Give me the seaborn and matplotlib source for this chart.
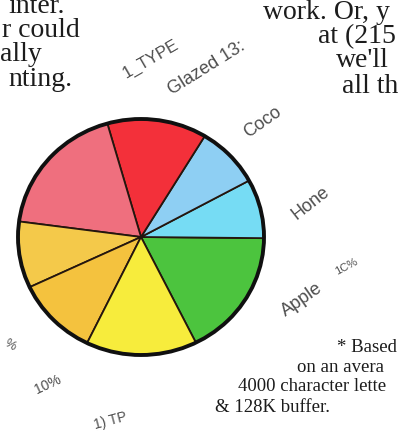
import matplotlib
matplotlib.use("Agg")
import matplotlib.pyplot as plt
from matplotlib.patches import Ellipse
import seaborn as sns


# DATA

# pie slices, counter-clockwise starting from the green one
slice_names = ["Apple", "Hone", "Coco", "Glazed", "Pink", "Orange A", "Orange B", "Yellow"]
slice_shares = [17.5, 8.1, 8.4, 13.1, 18.5, 9.1, 10.8, 14.6]
slice_colors = ["#4cc43e", "#76dcf4", "#8ecff3", "#f3303a", "#ef6f7e",
                "#f4c94a", "#f4c23e", "#f7ec3c"]

left_lines = ["inter.", "r could", "ally", "nting."]
right_lines = ["work. Or, y", "at (215", "we'll", "all th"]
note_lines = ["* Based", "on an avera", "4000 character lette", "& 128K buffer."]
pie_tags = ["1_TYPE", "Glazed 13:", "Coco", "Hone", "Apple", "1C%", "%", "10%", "1) TP"]


# STYLE

sns.set_theme(style="white")
plt.rcParams["font.family"] = ["Liberation Serif", "DejaVu Serif"]

W, H = 399, 435
fig = plt.figure(figsize=(W / 100, H / 100), dpi=100)
fig.patch.set_facecolor("white")

# background axes in pixel units (y grows downward)
bg = fig.add_axes([0, 0, 1, 1])
bg.set_xlim(0, W)
bg.set_ylim(H, 0)
bg.axis("off")


# PIE

cx, cy, rx, ry = 141, 238, 123, 118
pax = fig.add_axes([(cx - rx) / W, (H - cy - ry) / H, 2 * rx / W, 2 * ry / H])
wedges, _ = pax.pie(slice_shares, colors=slice_colors, startangle=-63.5,
                    counterclock=True, radius=1,
                    wedgeprops=dict(edgecolor="#24160e", linewidth=1.3))
for w in wedges:
    w.set_clip_on(False)
pax.set_aspect("auto")
pax.set_xlim(-1, 1)
pax.set_ylim(-1, 1)
pax.axis("off")
pax.add_patch(Ellipse((0, 0), 2, 2, fill=False, edgecolor="#101010",
                      linewidth=2.8, clip_on=False))


# BODY TEXT

body_kw = dict(fontsize=20, color="#1c1c1c", va="baseline")
for txt, x, y in zip(left_lines, [65, 80, 42, 73], [13, 37, 61, 86]):
    bg.text(x, y, txt, ha="right", **body_kw)
for txt, x, y in zip(right_lines, [263, 318, 336, 342], [19, 43, 67, 93]):
    bg.text(x, y, txt, ha="left", **body_kw)

note_kw = dict(fontsize=13.5, color="#1c1c1c", va="baseline", ha="left")
for txt, x, y in zip(note_lines, [337, 297, 238, 215], [352, 372, 391, 412]):
    bg.text(x, y, txt, **note_kw)


# ROTATED TAGS ROUND THE PIE

tag_x = [151, 207, 263, 311, 302, 346, 10, 48, 110]
tag_y = [59, 68, 122, 203, 300, 267, 345, 385, 421]
tag_rot = [30, 32, 35, 38, 35, 28, -30, 25, 15]
tag_size = [12, 13, 13, 13, 13, 8, 9, 10, 10]
for txt, x, y, r, s in zip(pie_tags, tag_x, tag_y, tag_rot, tag_size):
    bg.text(x, y, txt, rotation=r, rotation_mode="anchor", ha="center", va="center",
            fontsize=s, color="#4e4e4e", family=["Liberation Sans", "DejaVu Sans"])

fig.savefig("out.png", dpi=100)
